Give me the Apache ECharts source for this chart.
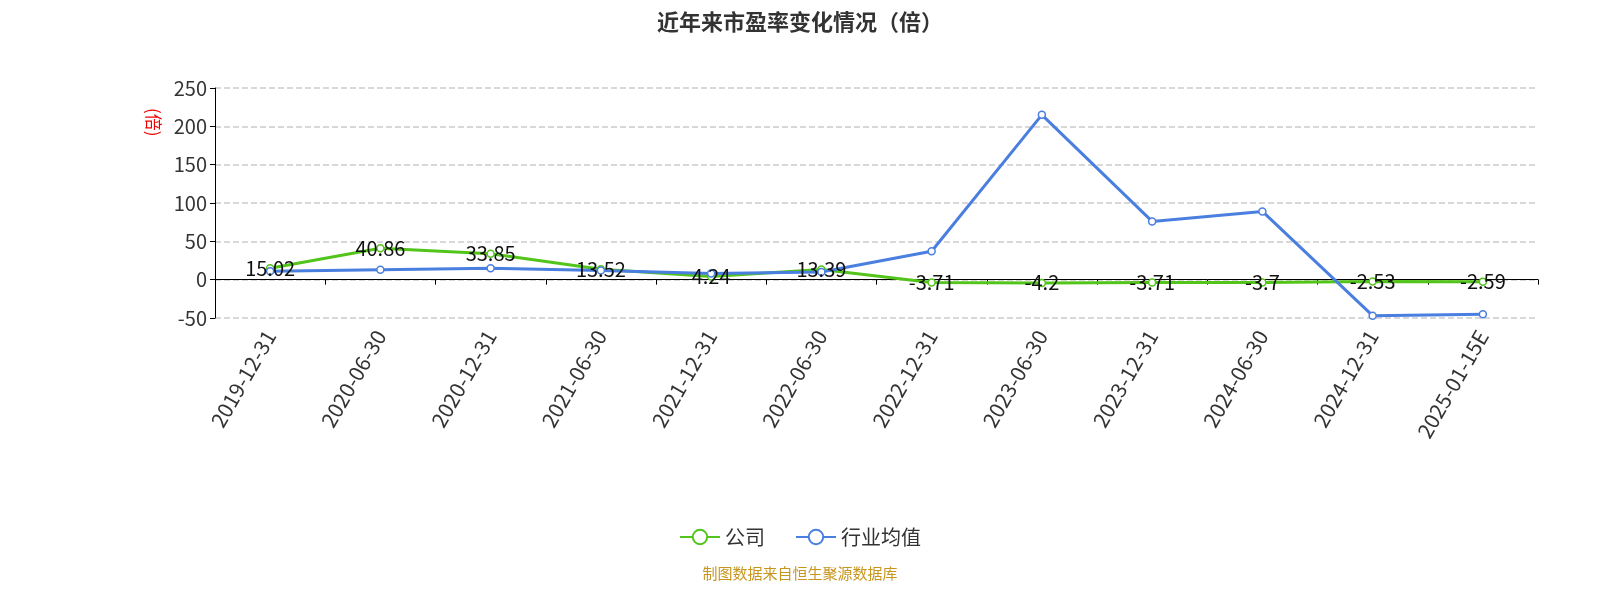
<!DOCTYPE html>
<html><head><meta charset="utf-8">
<script src="https://cdn.jsdelivr.net/npm/echarts@6/dist/echarts.min.js"></script>
<style>body{margin:0}#c{width:1600px;height:600px}</style>
</head><body><div id="c"></div>
<script>
var categories = ['2019-12-31','2020-06-30','2020-12-31','2021-06-30','2021-12-31','2022-06-30','2022-12-31','2023-06-30','2023-12-31','2024-06-30','2024-12-31','2025-01-15E'];
var company = [15.02,40.86,33.85,13.52,4.24,13.39,-3.71,-4.2,-3.71,-3.7,-2.53,-2.59];
var industry = [11,13,15,12,8,10,37,215,76,89,-47,-45];

var chart = echarts.init(document.getElementById('c'));
chart.setOption({
  textStyle:{fontFamily:'Noto Sans CJK SC'},
  title:{text:'近年来市盈率变化情况（倍）',left:'center',top:6,textStyle:{fontSize:22,fontWeight:'bold',color:'#333',fontFamily:'Noto Sans CJK SC'}},
  legend:{bottom:48,itemWidth:40,itemHeight:18,textStyle:{fontSize:20,color:'#333'},itemGap:30,data:['公司','行业均值']},
  graphic:[{type:'text',left:'center',top:566,style:{text:'制图数据来自恒生聚源数据库',fill:'#c8961e',fontSize:15,fontFamily:'Noto Sans CJK SC'}},
           {type:'text',x:162,y:108,rotation:-Math.PI/2,style:{text:'(倍)',fill:'#e00',fontSize:17,fontFamily:'Noto Sans CJK SC'}}],
  grid:{left:215,right:62,top:88,bottom:282},
  xAxis:{type:'category',data:categories,axisLine:{onZero:true,lineStyle:{color:'#000'}},axisTick:{show:true,lineStyle:{color:'#000'}},
    axisLabel:{rotate:60,fontSize:21,color:'#333',interval:0,margin:14}},
  yAxis:{type:'value',min:-50,max:250,interval:50,axisLine:{show:true,lineStyle:{color:'#000'}},axisTick:{show:true},
    axisLabel:{fontSize:20,color:'#333'},splitLine:{lineStyle:{type:'dashed',color:'#ccc',width:1.5}}},
  series:[
    {name:'公司',type:'line',data:company,symbol:'circle',symbolSize:7,lineStyle:{width:3,color:'#52c41a'},
     itemStyle:{color:'#fff',borderColor:'#52c41a',borderWidth:1.5},
     label:{show:true,position:'inside',fontSize:20,color:'#111'}},
    {name:'行业均值',type:'line',data:industry,symbol:'circle',symbolSize:7,lineStyle:{width:3,color:'#4a7fe0'},
     itemStyle:{color:'#fff',borderColor:'#4a7fe0',borderWidth:1.5}}
  ]
});
</script></body></html>
